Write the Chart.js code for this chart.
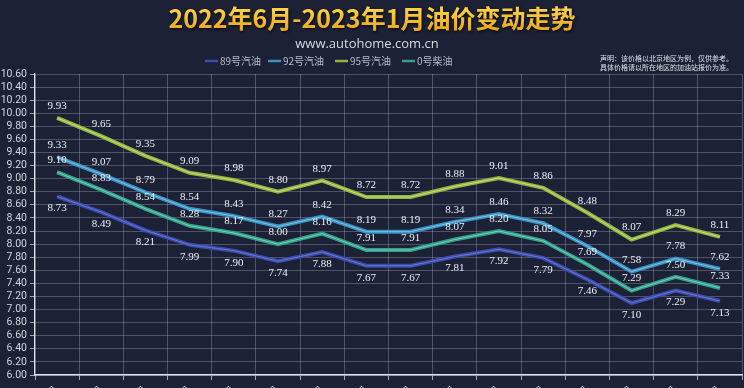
<!DOCTYPE html>
<html>
<head>
<meta charset="utf-8">
<script src="https://cdn.jsdelivr.net/npm/chart.js@4.4.1/dist/chart.umd.min.js"></script>
<style>
  html, body { margin: 0; padding: 0; background: #1d2136; overflow: hidden; }
  #wrap { width: 744px; height: 415px; }
</style>
</head>
<body>
<div id="wrap"><canvas id="oilChart" width="744" height="415"></canvas></div>
<script>
// adjustment dates (x axis)
const categories = ['6月28日', '7月12日', '7月26日', '8月9日', '8月23日', '9月6日', '9月21日', '10月10日',
  '10月24日', '11月7日', '11月21日', '12月5日', '12月19日', '1月3日', '1月17日', '1月31日'];

// prices, yuan per litre (Beijing)
const gas89 = [8.73, 8.49, 8.21, 7.99, 7.90, 7.74, 7.88, 7.67, 7.67, 7.81, 7.92, 7.79, 7.46, 7.10, 7.29, 7.13];
const gas92 = [9.33, 9.07, 8.79, 8.54, 8.43, 8.27, 8.42, 8.19, 8.19, 8.34, 8.46, 8.32, 7.97, 7.58, 7.78, 7.62];
const gas95 = [9.93, 9.65, 9.35, 9.09, 8.98, 8.80, 8.97, 8.72, 8.72, 8.88, 9.01, 8.86, 8.48, 8.07, 8.29, 8.11];
const diesel0 = [9.10, 8.83, 8.54, 8.28, 8.17, 8.00, 8.16, 7.91, 7.91, 8.07, 8.20, 8.05, 7.69, 7.29, 7.50, 7.33];

const seriesNames = ['89号汽油', '92号汽油', '95号汽油', '0号柴油'];
const seriesData = [gas89, gas92, gas95, diesel0];

const yMin = 6.0, yMax = 10.6, yStep = 0.2;

const titleText = '2022年6月-2023年1月油价变动走势';
const subtitleText = 'www.autohome.com.cn';
const noteLines = ['声明：该价格以北京地区为例，仅供参考。', '具体价格请以所在地区的加油站报价为准。'];

// outer / inner colour of each line
const outerColors = ['#3c4cac', '#3892c4', '#92b440', '#33a08a'];
const innerColors = ['#6676d4', '#78c2e6', '#c6e07c', '#74cfba'];
const labelBelow = [true, false, false, false];

const datasets = [];
seriesData.forEach((data, i) => {
  datasets.push({
    label: seriesNames[i], data: data, isMain: true, idx: i,
    borderColor: outerColors[i], borderWidth: 4, pointRadius: 0, tension: 0, order: 1
  });
  datasets.push({
    label: seriesNames[i] + '_hl', data: data, isMain: false,
    borderColor: innerColors[i], borderWidth: 1, pointRadius: 0, tension: 0, order: 0
  });
});

// title, subtitle, legend and note
const headerPlugin = {
  id: 'header',
  afterDraw(chart) {
    const c = chart.ctx;
    c.save();
    const grad = c.createLinearGradient(0, 6, 0, 32);
    grad.addColorStop(0, '#ffd84a');
    grad.addColorStop(1, '#eaa416');
    c.font = 'bold 25px "Noto Sans CJK SC", sans-serif';
    c.textAlign = 'center';
    c.textBaseline = 'middle';
    c.shadowColor = 'rgba(0,0,0,0.8)';
    c.shadowBlur = 3;
    c.shadowOffsetX = 1;
    c.shadowOffsetY = 1;
    c.fillStyle = grad;
    c.fillText(titleText, 372, 18);
    c.shadowColor = 'transparent';

    c.font = '13px "Open Sans", sans-serif';
    c.fillStyle = '#d6d8e0';
    c.fillText(subtitleText, 367, 44);

    // legend
    const legendX = [205, 268, 335, 402];
    c.font = '10px "Noto Sans CJK SC", sans-serif';
    c.textAlign = 'left';
    seriesNames.forEach((name, i) => {
      c.strokeStyle = outerColors[i];
      c.lineWidth = 2.5;
      c.beginPath();
      c.moveTo(legendX[i], 61);
      c.lineTo(legendX[i] + 13, 61);
      c.stroke();
      c.fillStyle = '#b8bccb';
      c.fillText(name, legendX[i] + 15, 61);
    });

    c.font = '7px "Noto Sans CJK SC", sans-serif';
    c.fillStyle = '#e0e2ea';
    c.fillText(noteLines[0], 600, 58);
    c.fillText(noteLines[1], 600, 67);
    c.restore();
  }
};

// value labels
const valueLabels = {
  id: 'valueLabels',
  afterDatasetsDraw(chart) {
    const c = chart.ctx;
    c.save();
    c.font = '11px "Liberation Serif", serif';
    c.fillStyle = '#eceef4';
    c.textAlign = 'center';
    c.textBaseline = 'middle';
    chart.data.datasets.forEach((ds, di) => {
      if (!ds.isMain) return;
      const meta = chart.getDatasetMeta(di);
      meta.data.forEach((pt, j) => {
        const dy = labelBelow[ds.idx] ? 12 : -12;
        c.fillText(ds.data[j].toFixed(2), pt.x, pt.y + dy);
      });
    });
    c.restore();
  }
};

new Chart(document.getElementById('oilChart'), {
  type: 'line',
  data: { labels: categories, datasets: datasets },
  options: {
    responsive: false,
    animation: false,
    layout: { padding: { top: 74, right: 2, left: 0, bottom: 0 } },
    plugins: { legend: { display: false }, tooltip: { enabled: false } },
    scales: {
      x: {
        offset: true,
        afterFit(scale) { scale.height = 40; },
        grid: { offset: true, color: 'rgba(210,214,230,0.28)', tickLength: 5, tickColor: 'rgba(220,224,236,0.7)' },
        border: { color: '#dfe2ec', width: 1.5 },
        ticks: { color: '#c8ccd8', font: { size: 11 }, maxRotation: 45, minRotation: 45, autoSkip: false }
      },
      y: {
        min: yMin, max: yMax,
        afterFit(scale) { scale.width = 35; },
        grid: { color: 'rgba(210,214,230,0.28)', tickLength: 5, tickColor: 'rgba(220,224,236,0.7)' },
        border: { color: '#dfe2ec', width: 1.2 },
        ticks: {
          stepSize: yStep, autoSkip: false, color: '#d0d4e0', padding: 3,
          font: { size: 10.5, family: '"Roboto", sans-serif' },
          callback: v => v.toFixed(2)
        }
      }
    }
  },
  plugins: [headerPlugin, valueLabels]
});
</script>
</body>
</html>
